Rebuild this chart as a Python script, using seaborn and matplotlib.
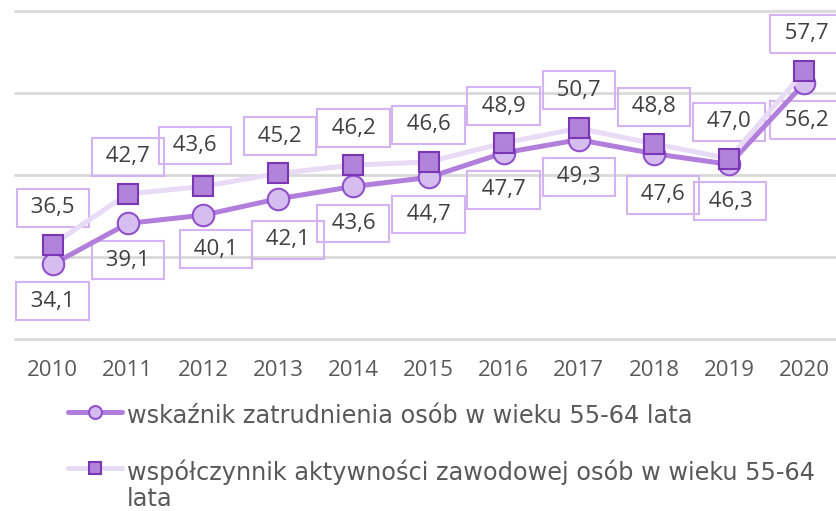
import matplotlib
matplotlib.use("Agg")
import matplotlib.pyplot as plt
import seaborn as sns
import pandas as pd

# --- data -------------------------------------------------------------
years = [2010, 2011, 2012, 2013, 2014, 2015, 2016, 2017, 2018, 2019, 2020]
employment_rate = [34.1, 39.1, 40.1, 42.1, 43.6, 44.7, 47.7, 49.3, 47.6, 46.3, 56.2]
activity_rate = [36.5, 42.7, 43.6, 45.2, 46.2, 46.6, 48.9, 50.7, 48.8, 47.0, 57.7]

label_employment = "wskaźnik zatrudnienia osób w wieku 55-64 lata"
label_activity = "współczynnik aktywności zawodowej osób w wieku 55-64\nlata"

# label box offsets (pixels, x right / y down) relative to each point
emp_offsets = [(0, 37), (0, 37), (13, 34), (10, 41), (0, 37), (0, 37),
               (0, 37), (0, 37), (9, 41), (1, 37), (2, 37)]
act_offsets = [(0, -37), (0, -37), (-8, -41), (2, -37), (0, -37), (0, -37),
               (0, -37), (0, -38), (0, -37), (0, -37), (2, -37)]

# --- style ------------------------------------------------------------
sns.set_theme(style="white")
plt.rcParams["font.family"] = ["Open Sans", "DejaVu Sans"]

EMP_LINE = "#b17fdb"
EMP_FACE = "#d6bdf0"
EMP_EDGE = "#9150cc"
ACT_LINE = "#e7dbf5"
ACT_FACE = "#b283da"
ACT_EDGE = "#7b36b5"
BOX_EDGE = "#d4b4f0"
TEXT = "#404040"
GREY_TEXT = "#595959"
GRID = "#d9d9d9"
FS = 16

df = pd.DataFrame({"rok": years, "zatr": employment_rate, "akt": activity_rate})

W, H = 837, 511
fig = plt.figure(figsize=(W / 100, H / 100), dpi=100)
ax = fig.add_axes([15 / W, (H - 339) / H, 827 / W, 328 / H])

sns.lineplot(data=df, x="rok", y="zatr", ax=ax, color=EMP_LINE, linewidth=3.6,
             marker="o", markersize=15.5, markerfacecolor=EMP_FACE,
             markeredgecolor=EMP_EDGE, markeredgewidth=1.5,
             label=label_employment, zorder=3)
sns.lineplot(data=df, x="rok", y="akt", ax=ax, color=ACT_LINE, linewidth=3.6,
             marker="s", markersize=15, markerfacecolor=ACT_FACE,
             markeredgecolor=ACT_EDGE, markeredgewidth=1.5,
             label=label_activity, zorder=4)

ax.set_xlim(2009.5, 2020.5)
ax.set_ylim(25, 65)
ax.set_yticks([25, 35, 45, 55, 65])
ax.set_yticklabels([])
ax.set_xticks(years)
ax.set_xticklabels([str(y) for y in years], fontsize=FS, color=GREY_TEXT)
ax.tick_params(axis="x", length=0, pad=15)
ax.tick_params(axis="y", length=0)
ax.set_xlabel("")
ax.set_ylabel("")
ax.grid(axis="y", color=GRID, linewidth=2)
ax.set_axisbelow(True)
for gl in ax.yaxis.get_gridlines():
    gl.set_clip_on(False)
for s in ax.spines.values():
    s.set_visible(False)


def fmt(v):
    return f"{v:.1f}".replace(".", ",")


box = dict(boxstyle="square,pad=0.38", fc="none", ec=BOX_EDGE, lw=1.5)
for yr, v, (dx, dy) in zip(years, employment_rate, emp_offsets):
    ax.annotate(" " + fmt(v) + " ", xy=(yr, v), xytext=(dx, -dy),
                textcoords="offset pixels", ha="center", va="center",
                fontsize=FS, color=TEXT, bbox=box, zorder=2,
                annotation_clip=False)
for yr, v, (dx, dy) in zip(years, activity_rate, act_offsets):
    ax.annotate(" " + fmt(v) + " ", xy=(yr, v), xytext=(dx, -dy),
                textcoords="offset pixels", ha="center", va="center",
                fontsize=FS, color=TEXT, bbox=box, zorder=2,
                annotation_clip=False)

handles, labels = ax.get_legend_handles_labels()
ax.get_legend().remove()
leg = fig.legend(handles, labels, loc="upper left",
                 bbox_to_anchor=(68 / W, (H - 404) / H),
                 frameon=False, prop={"family": "DejaVu Sans", "size": 17.3},
                 labelcolor=GREY_TEXT,
                 handlelength=2.25, handletextpad=0.2, borderpad=0,
                 borderaxespad=0, labelspacing=1.33, markerscale=0.6)
for t in leg.get_texts():
    t.set_linespacing(1.1)
# keep the second handle level with the first line of its wrapped label
for item in leg._legend_handle_box.get_children()[0].get_children():
    item.align = "top"

fig.savefig("out.png", dpi=100)
